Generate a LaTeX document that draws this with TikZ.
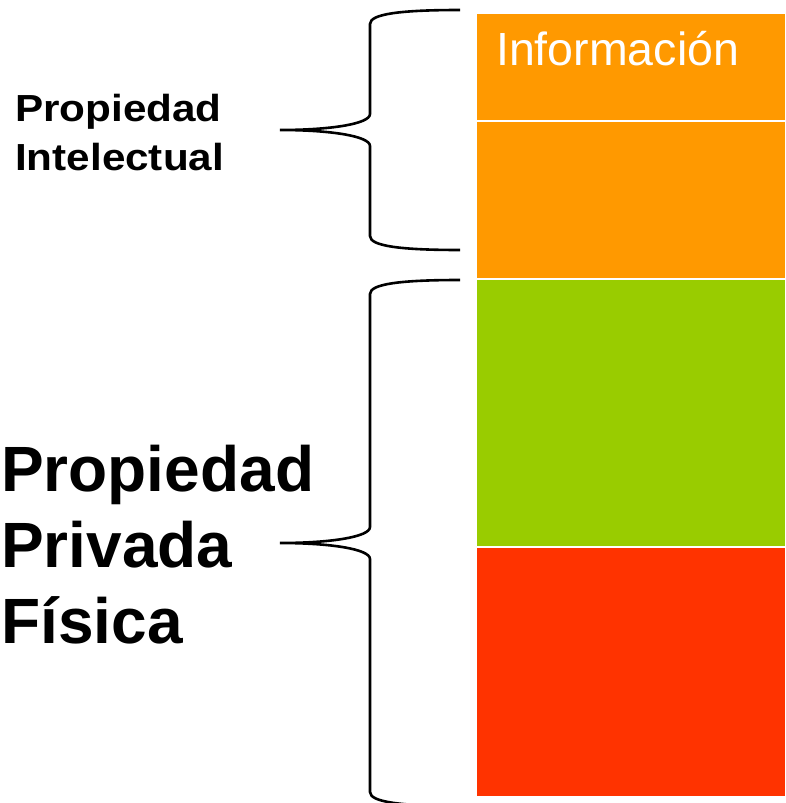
\documentclass[tikz,border=0pt]{standalone}
\usepackage{fontspec}
\setmainfont{Liberation Sans}
\definecolor{orangebox}{HTML}{FF9900}
\definecolor{greenbox}{HTML}{99CC00}
\definecolor{redbox}{HTML}{FF3300}
\tikzset{
  layer/.style={draw=white, line width=2pt, minimum width=310pt, inner sep=0pt, anchor=north west},
  bracepath/.style={draw=black, line width=2.6pt},
  smalllabel/.style={anchor=base west, inner sep=0pt, align=left,
     font=\fontsize{37.7}{49}\selectfont\bfseries\addfontfeature{FakeStretch=1.12}},
  biglabel/.style={anchor=base west, inner sep=0pt, align=left,
     font=\fontsize{64}{76}\selectfont\bfseries},
}
\begin{document}
\begin{tikzpicture}[x=1pt,y=-1pt]
\useasboundingbox (0,0) rectangle (785,803);
% layers
\node[layer, fill=orangebox, minimum height=108pt] (info) at (475,12) {};
\node[layer, fill=orangebox, minimum height=158pt] (info2) at (475,120) {};
\node[layer, fill=greenbox, minimum height=268pt] (green) at (475,278) {};
\node[layer, fill=redbox, minimum height=250pt] (red) at (475,546) {};
\node[anchor=base west, inner sep=0pt, text=white, font=\fontsize{46.5}{50}\selectfont] (infolabel) at (496,65) {Información};
% braces
\draw[bracepath] (460,10) .. controls (400,10) and (370,14) .. (370,24)
  -- (370,114) .. controls (370,124) and (330,130) .. (280,130)
  .. controls (330,130) and (370,136) .. (370,146)
  -- (370,236) .. controls (370,246) and (400,250) .. (460,250);
\draw[bracepath] (460,280) .. controls (400,280) and (370,284) .. (370,294)
  -- (370,527) .. controls (370,537) and (330,543) .. (280,543)
  .. controls (330,543) and (370,549) .. (370,559)
  -- (370,792) .. controls (370,802) and (400,806) .. (460,806);
% labels (anchor base = baseline of last line)
\node[smalllabel] (pi) at (15,170) {Propiedad\\Intelectual};
\node[biglabel] (ppf) at (1,643) {Propiedad\\Privada\\Física};
\end{tikzpicture}
\end{document}
